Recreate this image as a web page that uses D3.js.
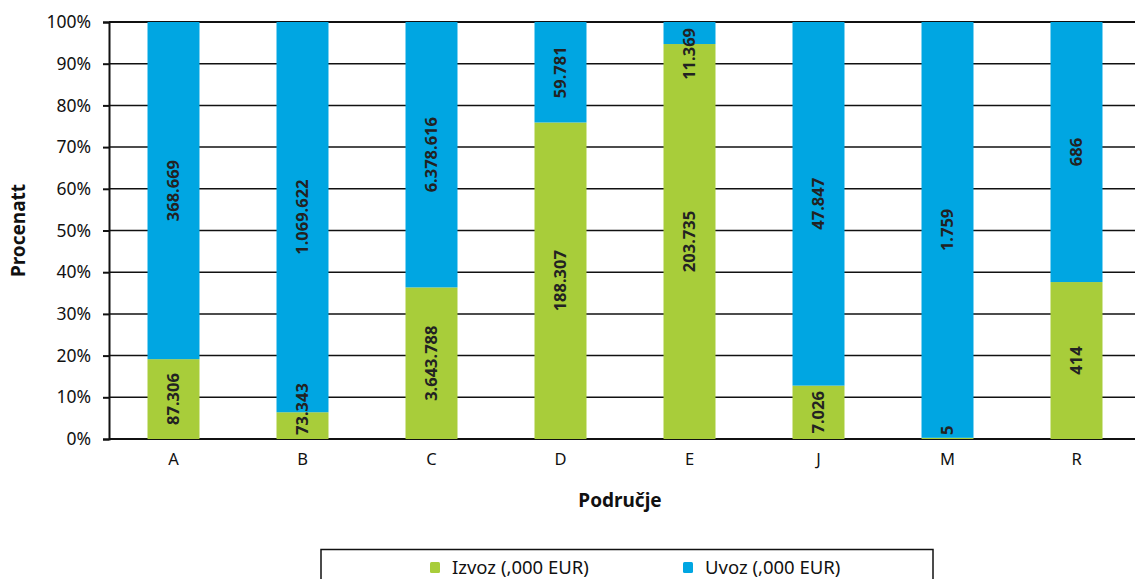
<html>
<head>
    <script src="https://cdn.jsdelivr.net/npm/d3@7"></script>
    <style>
        body {
            margin: 0;
            font-family: "Noto Sans", Arial, sans-serif;
            background: white;
        }
        svg {
            display: block;
        }
    </style>
</head>
<body>
    <svg id="chart"></svg>
</body>
<script>
    // data
    let categories = ["A", "B", "C", "D", "E", "J", "M", "R"];
    let izvoz = [87306, 73343, 3643788, 188307, 203735, 7026, 5, 414];
    let uvoz = [368669, 1069622, 6378616, 59781, 11369, 47847, 1759, 686];
    let seriesNames = ["Izvoz (,000 EUR)", "Uvoz (,000 EUR)"];
    let seriesColors = ["#a8cd3a", "#00a6e2"];
    let yTicks = [0, 0.1, 0.2, 0.3, 0.4, 0.5, 0.6, 0.7, 0.8, 0.9, 1];

    let width = 1135, height = 579;
    let margin = {left: 109, top: 22, right: -6, bottom: 140};

    let svg = d3.select("#chart")
        .attr("width", width)
        .attr("height", height);

    let x = d3.scaleBand()
        .domain(categories)
        .range([margin.left, width - margin.right])
        .paddingInner(0.597)
        .paddingOuter(0.2985);

    let y = d3.scaleLinear()
        .domain([0, 1])
        .range([height - margin.bottom, margin.top]);

    let fmt = n => d3.format(",")(n).replace(/,/g, ".");

    // gridlines
    svg.append("g")
        .selectAll("line")
        .data(yTicks)
        .enter().append("line")
        .attr("x1", margin.left)
        .attr("x2", width)
        .attr("y1", d => y(d))
        .attr("y2", d => y(d))
        .attr("stroke", "#111")
        .attr("stroke-width", d => (d == 0 || d == 1) ? 2 : 1.5);

    // stacked data
    let rows = categories.map((c, i) => ({cat: c, vals: [izvoz[i], uvoz[i]]}));
    let stacked = [];
    rows.forEach(r => {
        let total = r.vals[0] + r.vals[1];
        let acc = 0;
        r.vals.forEach((v, k) => {
            stacked.push({cat: r.cat, k: k, v: v, y0: acc / total, y1: (acc + v) / total});
            acc += v;
        });
    });

    svg.append("g")
        .selectAll("rect")
        .data(stacked)
        .enter().append("rect")
        .attr("x", d => x(d.cat))
        .attr("width", x.bandwidth())
        .attr("y", d => y(d.y1))
        .attr("height", d => y(d.y0) - y(d.y1))
        .attr("fill", d => seriesColors[d.k]);

    // value labels, rotated; kept inside the plot area like the original
    svg.append("g")
        .selectAll("text")
        .data(stacked)
        .enter().append("text")
        .attr("text-anchor", "middle")
        .attr("dy", "0.36em")
        .style("font-size", "16.5px")
        .style("font-weight", "bold")
        .style("fill", "#222")
        .text(d => fmt(d.v))
        .attr("transform", function(d) {
            let len = this.getComputedTextLength();
            let cy = y((d.y0 + d.y1) / 2);
            cy = Math.max(cy, y(1) + 6 + len / 2);
            cy = Math.min(cy, y(0) - 4 - len / 2);
            return "translate(" + (x(d.cat) + x.bandwidth() / 2) + "," + cy + ") rotate(-90)";
        });

    // y axis
    let yAxis = d3.axisLeft(y)
        .tickValues(yTicks)
        .tickFormat(d3.format(".0%"))
        .tickSize(6)
        .tickPadding(12);
    let gy = svg.append("g")
        .attr("transform", "translate(" + margin.left + ",0)")
        .call(yAxis);
    gy.select(".domain").attr("stroke", "#111").attr("stroke-width", 2);
    gy.selectAll(".tick line").attr("stroke", "#111").attr("stroke-width", 2);
    gy.selectAll(".tick text")
        .style("font-size", "17.5px")
        .style("font-family", "'Noto Sans', sans-serif")
        .style("fill", "#111");

    // x axis labels
    let xAxis = d3.axisBottom(x).tickSize(0).tickPadding(14);
    let gx = svg.append("g")
        .attr("transform", "translate(0," + y(0) + ")")
        .call(xAxis);
    gx.select(".domain").remove();
    gx.selectAll(".tick text")
        .style("font-size", "16.5px")
        .style("font-family", "'Noto Sans', sans-serif")
        .style("fill", "#111");

    // axis titles
    svg.append("text")
        .attr("transform", "translate(18," + ((margin.top + y(0)) / 2) + ") rotate(-90)")
        .attr("text-anchor", "middle")
        .attr("dy", "0.35em")
        .style("font-size", "19px")
        .style("font-weight", "bold")
        .style("fill", "#111")
        .text("Procenatt");

    svg.append("text")
        .attr("x", 620)
        .attr("y", 500)
        .attr("dy", "0.35em")
        .attr("text-anchor", "middle")
        .style("font-size", "19px")
        .style("font-weight", "bold")
        .style("fill", "#111")
        .text("Područje");

    // legend
    svg.append("rect")
        .attr("x", 321)
        .attr("y", 549.5)
        .attr("width", 612)
        .attr("height", 40)
        .attr("fill", "white")
        .attr("stroke", "#111")
        .attr("stroke-width", 1.5);

    let legendX = [430, 683];
    let legend = svg.selectAll(".legend")
        .data(seriesNames)
        .enter().append("g")
        .attr("class", "legend")
        .attr("transform", (d, i) => "translate(" + legendX[i] + ",562)");

    legend.append("rect")
        .attr("width", 10)
        .attr("height", 11)
        .attr("rx", 1.5)
        .attr("fill", (d, i) => seriesColors[i]);

    legend.append("text")
        .attr("x", 22)
        .attr("y", 11.5)
        .style("font-size", "18.5px")
        .style("fill", "#111")
        .text(d => d);
</script>
</html>
